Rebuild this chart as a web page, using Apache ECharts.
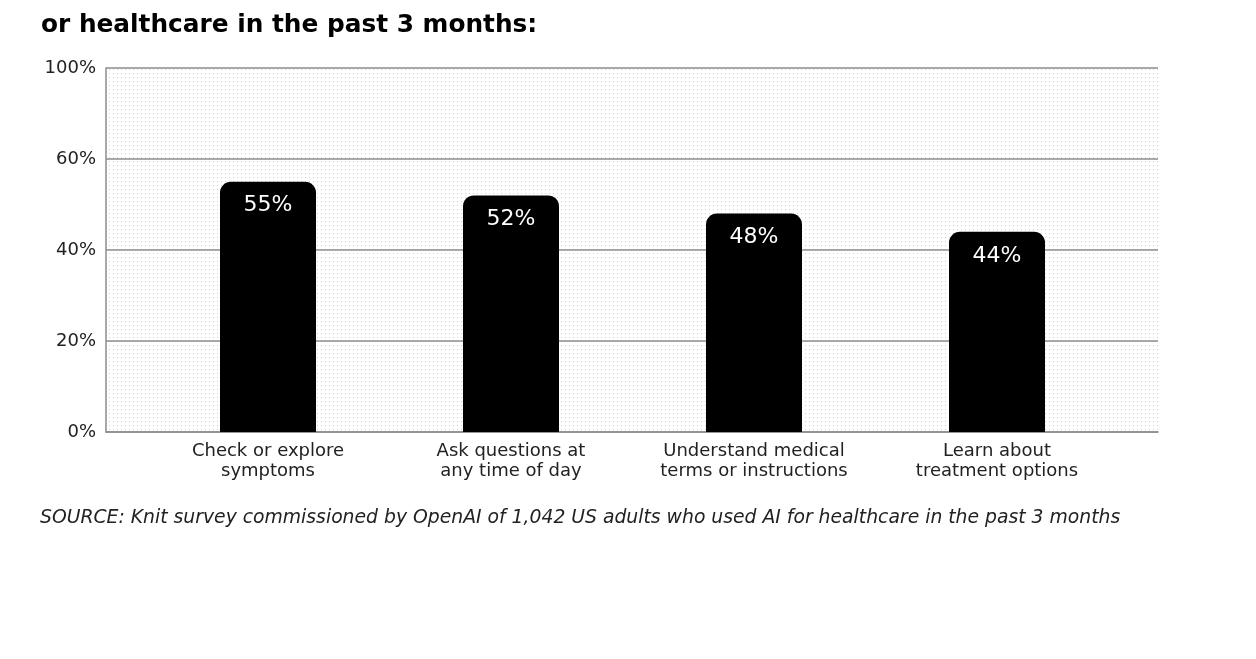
<!DOCTYPE html>
<html>
<head>
<meta charset="utf-8">
<script src="https://cdn.jsdelivr.net/npm/echarts@6/dist/echarts.min.js"></script>
<style>
html,body{margin:0;padding:0;background:#fff;}
#chart{width:1256px;height:659px;}
</style>
</head>
<body>
<div id="chart"></div>
<script>
const titleText = 'or healthcare in the past 3 months:';
const sourceText = 'SOURCE: Knit survey commissioned by OpenAI of 1,042 US adults who used AI for healthcare in the past 3 months';
const categories = ['Check or explore\nsymptoms', 'Ask questions at\nany time of day', 'Understand medical\nterms or instructions', 'Learn about\ntreatment options'];
const values = [55, 52, 48, 44];
const tickValues = [0, 20, 40, 60, 80];
const tickLabels = ['0%', '20%', '40%', '60%', '100%'];

const FONT = '"DejaVu Sans", sans-serif';

// dot pattern
const pc = document.createElement('canvas');
pc.width = 4; pc.height = 4;
const pctx = pc.getContext('2d');
pctx.fillStyle = '#ffffff';
pctx.fillRect(0, 0, 4, 4);
pctx.fillStyle = '#d2d2d2';
pctx.fillRect(1, 1, 1, 1);

const chart = echarts.init(document.getElementById('chart'), null, {renderer: 'canvas'});
chart.setOption({
  animation: false,
  title: [{
    text: titleText,
    left: 36, top: 8,
    textStyle: {fontFamily: FONT, fontSize: 24.8, fontWeight: 'bold', color: '#000'}
  }, {
    text: sourceText,
    left: 35, top: 504,
    textStyle: {fontFamily: FONT, fontSize: 18.8, fontWeight: 'normal', fontStyle: 'italic', color: '#222'}
  }],
  grid: [{
    left: 106, right: 98, top: 68, bottom: 227,
    show: true,
    backgroundColor: {image: pc, repeat: 'repeat'},
    borderWidth: 0
  }, {
    left: 146.5, right: 137.5, top: 68, bottom: 227
  }],
  xAxis: [{
    type: 'value', gridIndex: 0, min: 0, max: 1,
    axisLine: {show: true, onZero: false, lineStyle: {color: '#8c8c8c', width: 1.5}},
    axisTick: {show: false}, axisLabel: {show: false}, splitLine: {show: false}
  }, {
    type: 'category', gridIndex: 1, data: categories,
    axisLine: {show: false}, axisTick: {show: false},
    axisLabel: {
      interval: 0, hideOverlap: false,
      margin: 9, fontFamily: FONT, fontSize: 18, color: '#222', lineHeight: 20
    }
  }],
  yAxis: [{
    type: 'value', gridIndex: 0, min: 0, max: 80, interval: 20,
    axisLine: {show: true, lineStyle: {color: '#8c8c8c', width: 1.5}},
    axisTick: {show: false},
    splitLine: {show: true, lineStyle: {color: '#8c8c8c', width: 1.5}},
    axisLabel: {
      margin: 10, fontFamily: FONT, fontSize: 18, color: '#222',
      formatter: function (v) { const i = tickValues.indexOf(v); return i >= 0 ? tickLabels[i] : ''; }
    }
  }, {
    type: 'value', gridIndex: 1, min: 0, max: 80, interval: 20,
    show: false
  }],
  series: [{
    type: 'bar',
    xAxisIndex: 1, yAxisIndex: 1,
    data: values,
    barWidth: 96,
    itemStyle: {color: '#000', borderRadius: [11, 11, 0, 0]},
    label: {
      show: true, position: 'insideTop', distance: 13,
      formatter: '{c}%', color: '#fff', fontFamily: FONT, fontSize: 22
    }
  }]
});
</script>
</body>
</html>
